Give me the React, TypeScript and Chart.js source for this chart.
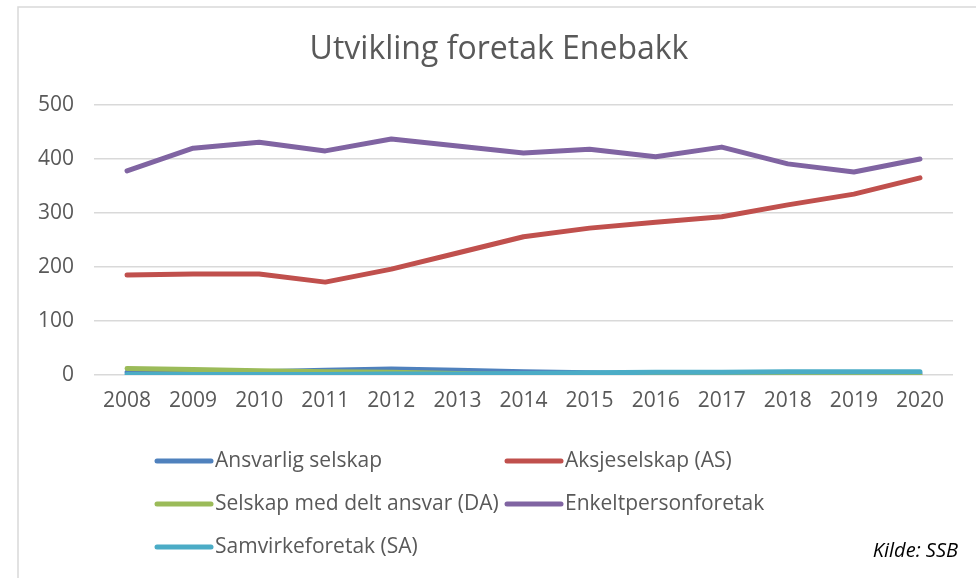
import React, { useEffect, useRef } from "react";
import { Chart, registerables } from "chart.js";

Chart.register(...registerables);

const years = ["2008", "2009", "2010", "2011", "2012", "2013", "2014", "2015", "2016", "2017", "2018", "2019", "2020"];
const ansvarligSelskap = [5, 5, 6, 9, 11, 9, 6, 4, 2, 2, 3, 3, 3];
const aksjeselskap = [185, 187, 187, 172, 196, 226, 256, 272, 283, 293, 315, 335, 365];
const selskapDA = [12, 10, 8, 6, 5, 3, 1, 1, 1, 0, 1, 1, 0];
const enkeltperson = [378, 420, 431, 415, 437, 424, 411, 418, 404, 422, 391, 376, 400];
const samvirke = [1, 1, 1, 1, 2, 2, 3, 4, 5, 5, 6, 6, 6];

const seriesLabels = ["Ansvarlig selskap", "Aksjeselskap (AS)", "Selskap med delt ansvar (DA)", "Enkeltpersonforetak", "Samvirkeforetak (SA)"];
const seriesColors = ["#4F81BD", "#C0504D", "#9BBB59", "#8064A2", "#4BACC6"];
const titleText = "Utvikling foretak Enebakk";
const sourceText = "Kilde: SSB";
const FONT = "'Open Sans', 'DejaVu Sans', sans-serif";

const decorPlugin = {
  id: "decor",
  afterDraw(chart: any) {
    const ctx = chart.ctx;
    ctx.save();
    // frame
    ctx.strokeStyle = "#d9d9d9";
    ctx.lineWidth = 1.5;
    ctx.strokeRect(18, 7, 1000, 700);
    // title
    ctx.fillStyle = "#595959";
    ctx.font = `32px ${FONT}`;
    ctx.textAlign = "center";
    ctx.textBaseline = "middle";
    ctx.fillText(titleText, 499, 50);
    // legend
    const cols = [155, 505];
    const rows = [461, 504, 547];
    chart.data.datasets.forEach((ds: any, i: number) => {
      const x = cols[i % 2];
      const y = rows[Math.floor(i / 2)];
      ctx.strokeStyle = ds.borderColor;
      ctx.lineWidth = 5;
      ctx.lineCap = "round";
      ctx.beginPath();
      ctx.moveTo(x + 2, y);
      ctx.lineTo(x + 56, y);
      ctx.stroke();
      ctx.fillStyle = "#595959";
      ctx.font = `21px ${FONT}`;
      ctx.textAlign = "left";
      ctx.textBaseline = "middle";
      ctx.fillText(ds.label, x + 60, y);
    });
    // source
    ctx.fillStyle = "#000";
    ctx.font = `italic 20px ${FONT}`;
    ctx.textAlign = "right";
    ctx.textBaseline = "middle";
    ctx.fillText(sourceText, 958, 551);
    ctx.restore();
  },
};

export default function App() {
  const ref = useRef<HTMLCanvasElement | null>(null);
  useEffect(() => {
    let chart: Chart | null = null;
    let cancelled = false;
    const make = () => {
      if (cancelled || !ref.current) return;
      const seriesData = [ansvarligSelskap, aksjeselskap, selskapDA, enkeltperson, samvirke];
      chart = new Chart(ref.current, {
        type: "line",
        data: {
          labels: years,
          datasets: seriesData.map((d, i) => ({
            label: seriesLabels[i],
            data: d,
            borderColor: seriesColors[i],
            backgroundColor: seriesColors[i],
            borderWidth: 5,
            pointRadius: 0,
            tension: 0,
            borderCapStyle: "round" as const,
            borderJoinStyle: "round" as const,
            order: 10 - i,
          })),
        },
        options: {
          responsive: false,
          animation: false,
          layout: { padding: { left: 0, right: 23, top: 105, bottom: 163 } },
          plugins: { legend: { display: false }, title: { display: false }, tooltip: { enabled: false } },
          scales: {
            x: {
              offset: true,
              grid: { display: false },
              border: { display: false },
              ticks: { color: "#595959", font: { family: FONT, size: 21 }, padding: 5, maxRotation: 0, autoSkip: false },
              afterFit: (s: any) => { s.height = 40; },
            },
            y: {
              min: 0,
              max: 500,
              grid: { color: "#d9d9d9", lineWidth: 1.5, drawTicks: false },
              border: { display: false },
              ticks: { stepSize: 100, color: "#595959", font: { family: FONT, size: 21 }, padding: 20 },
              afterFit: (s: any) => { s.width = 94; },
            },
          },
        },
        plugins: [decorPlugin],
      });
    };
    const fontsReady = (document as any).fonts
      ? Promise.all([
          (document as any).fonts.load(`20px 'Open Sans'`),
          (document as any).fonts.load(`italic 20px 'Open Sans'`),
        ]).catch(() => null)
      : Promise.resolve();
    fontsReady.then(make);
    return () => {
      cancelled = true;
      if (chart) chart.destroy();
    };
  }, []);
  return (
    <div style={{ position: "fixed", left: 0, top: 0, width: 976, height: 578, background: "#fff" }}>
      <canvas ref={ref} width={976} height={578} style={{ display: "block" }} />
    </div>
  );
}
